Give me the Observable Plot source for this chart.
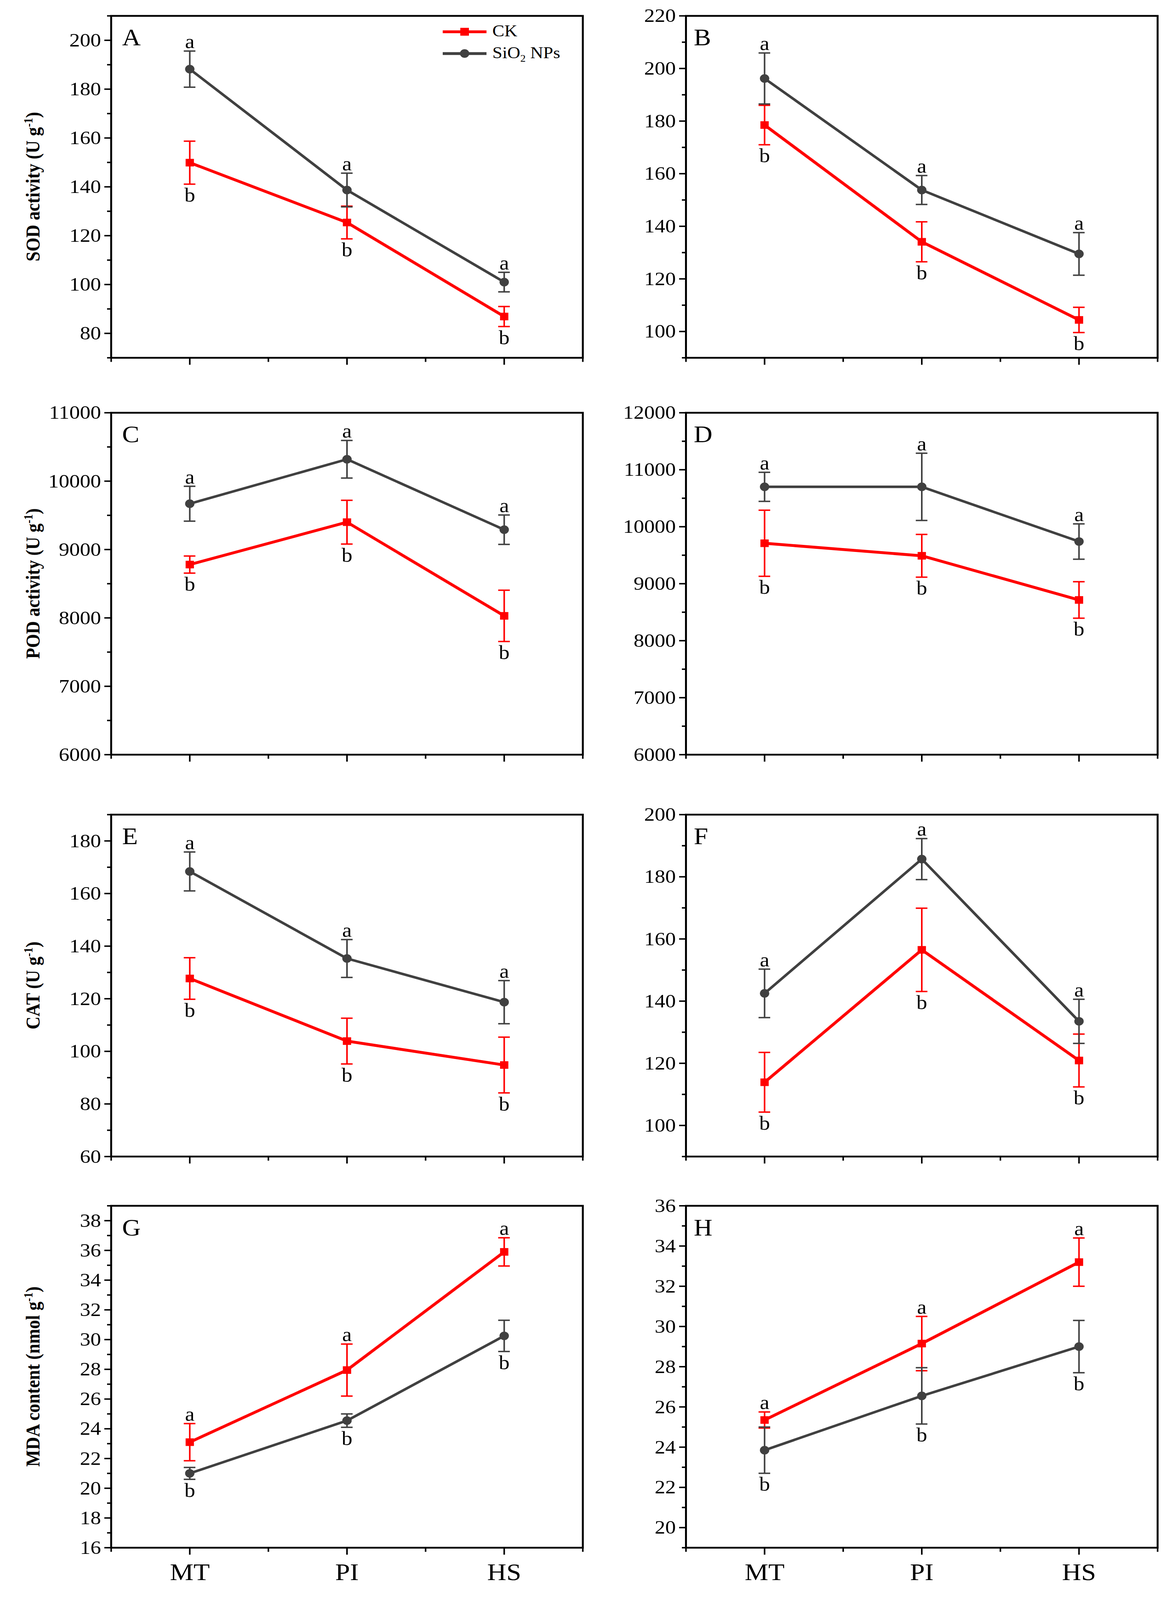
<!DOCTYPE html>
<html>
<head>
<meta charset="utf-8">
<script src="https://cdn.jsdelivr.net/npm/d3@7"></script>
<script src="https://cdn.jsdelivr.net/npm/@observablehq/plot@0.6"></script>
<style>
  html, body { margin: 0; padding: 0; background: #fff; overflow: hidden; }
  #page { position: relative; width: 3007px; height: 4483px; transform-origin: 0 0; font-family: "Liberation Serif", "Times New Roman", serif; }
  .panel { position: absolute; }
  .ytitle { position: absolute; font-weight: bold; font-size: 50px; white-space: nowrap; transform: translate(-50%, -50%) rotate(-90deg); }
  .ytitle sup { font-size: 0.62em; }
  .leg { position: absolute; font-size: 46px; line-height: 46px; white-space: nowrap; }
</style>
</head>
<body>
<div id="page"></div>
<script>
// estadios y paneles
const stages = ["MT", "PI", "HS"]
const panelIds = ["A", "B", "C", "D", "E", "F", "G", "H"]
const yTitles = ["SOD activity (U g", "POD activity (U g", "CAT (U g", "MDA content (nmol g"]

// medias y desvios (CK y SiO2 NPs), un renglon por panel
const ckMeans = [
  [149.9, 125.4, 86.9],
  [178.5, 134.1, 104.4],
  [8780, 9400, 8030],
  [9710, 9490, 8715],
  [127.7, 103.9, 94.8],
  [113.9, 156.5, 120.9],
  [23.1, 27.95, 35.9],
  [25.35, 29.15, 33.2]
]
const ckSd = [
  [8.8, 6.7, 4.1],
  [7.5, 7.6, 4.8],
  [125, 320, 375],
  [580, 375, 320],
  [7.9, 8.7, 10.6],
  [9.6, 13.4, 8.5],
  [1.25, 1.75, 0.95],
  [0.4, 1.35, 1.2]
]
const sioMeans = [
  [188.2, 138.7, 101],
  [196.2, 153.8, 129.5],
  [9670, 10320, 9290],
  [10700, 10700, 9740],
  [168.4, 135.3, 118.7],
  [142.5, 185.7, 133.5],
  [21.0, 24.55, 30.25],
  [23.85, 26.55, 29.0]
]
const sioSd = [
  [7.4, 6.9, 4],
  [9.7, 5.5, 8.1],
  [255, 275, 215],
  [255, 590, 310],
  [7.4, 7.2, 8.2],
  [7.8, 6.6, 7.1],
  [0.4, 0.45, 1.05],
  [1.15, 1.4, 1.3]
]
// letras de significancia
const ckLetters = ["b", "b", "b", "b", "b", "b", "a", "a"]
const sioLetters = ["a", "a", "a", "a", "a", "a", "b", "b"]

// ejes
const yDomains = [[70, 210], [90, 220], [6000, 11000], [6000, 12000], [60, 190], [90, 200], [16, 39], [19, 36]]
const yTicks = [
  [80, 100, 120, 140, 160, 180, 200],
  [100, 120, 140, 160, 180, 200, 220],
  [6000, 7000, 8000, 9000, 10000, 11000],
  [6000, 7000, 8000, 9000, 10000, 11000, 12000],
  [60, 80, 100, 120, 140, 160, 180],
  [100, 120, 140, 160, 180, 200],
  [16, 18, 20, 22, 24, 26, 28, 30, 32, 34, 36, 38],
  [20, 22, 24, 26, 28, 30, 32, 34, 36]
]

const RED = "#ff0000"
const GRAY = "#404040"
const plotW = 1207, plotH = 958
const colLeft = [284, 1755]
const rowTop = [44, 1156, 2282, 3378]
const mTop = 60, mBot = 130, svgW = 1503

const page = d3.select("#page")

function serie(k, means, sds, letters) {
  return means[k].map((m, i) => ({i: i + 1, mean: m, lo: m - sds[k][i], hi: m + sds[k][i], letter: letters[k]}))
}

panelIds.forEach((id, k) => {
  const col = k % 2, row = Math.floor(k / 2)
  const ml = colLeft[col] - col * svgW
  const ck = serie(k, ckMeans, ckSd, ckLetters)
  const sio = serie(k, sioMeans, sioSd, sioLetters)
  const step = yTicks[k][1] - yTicks[k][0]
  const minor = d3.range(yTicks[k][0] - step / 2, yDomains[k][1] + 1e-9, step).filter(v => v >= yDomains[k][0])
  const bottom = row === 3

  const errorMarks = (data, color) => [
    Plot.ruleX(data, {x: "i", y1: "lo", y2: "hi", stroke: color, strokeWidth: 4}),
    Plot.ruleY(data, {y: "hi", x1: d => d.i - 0.037, x2: d => d.i + 0.037, stroke: color, strokeWidth: 4}),
    Plot.ruleY(data, {y: "lo", x1: d => d.i - 0.037, x2: d => d.i + 0.037, stroke: color, strokeWidth: 4})
  ]
  const letterMark = (data) => {
    const up = data[0].letter === "a"
    return Plot.text(data, {
      x: "i", y: up ? "hi" : "lo", text: "letter",
      dy: up ? -8 : 10, lineAnchor: up ? "bottom" : "top",
      fontSize: 55, fill: "black"
    })
  }

  const chart = Plot.plot({
    width: svgW,
    height: mTop + plotH + mBot,
    marginLeft: ml,
    marginRight: svgW - ml - plotW,
    marginTop: mTop,
    marginBottom: mBot,
    x: {domain: [0.5, 3.5], axis: null},
    y: {domain: yDomains[k], axis: null},
    style: {background: "none", maxWidth: "none", overflow: "visible", fontFamily: "'Liberation Serif', 'Times New Roman', serif"},
    marks: [
      ...errorMarks(ck, RED),
      ...errorMarks(sio, GRAY),
      Plot.line(ck, {x: "i", y: "mean", stroke: RED, strokeWidth: 8}),
      Plot.line(sio, {x: "i", y: "mean", stroke: GRAY, strokeWidth: 7}),
      Plot.dot(ck, {x: "i", y: "mean", symbol: "square", r: 12, fill: RED}),
      Plot.dot(sio, {x: "i", y: "mean", symbol: "circle", r: 12, fill: GRAY}),
      letterMark(ck),
      letterMark(sio),
      Plot.text([id], {frameAnchor: "top-left", dx: col ? 20 : 28, dy: 36, lineAnchor: "top", textAnchor: "start", fontSize: 66, fill: "black"}),
      Plot.axisY({ticks: yTicks[k], tickSize: 17, tickPadding: 9, tickFormat: d3.format("d"), fontSize: 54, color: "black", strokeWidth: 4, label: null}),
      Plot.axisY({ticks: minor, tickSize: 10, tickFormat: () => "", color: "black", strokeWidth: 4, label: null}),
      Plot.axisX({ticks: [1, 2, 3], tickSize: 20, tickPadding: 22, tickFormat: d => bottom ? stages[d - 1] : "", fontSize: 68, color: "black", strokeWidth: 4, label: null}),
      Plot.axisX({ticks: [0.5, 1.5, 2.5, 3.5], tickSize: 12, tickFormat: () => "", color: "black", strokeWidth: 4, label: null}),
      Plot.frame({stroke: "black", strokeWidth: 5})
    ]
  })

  page.append("div")
    .attr("class", "panel")
    .style("left", `${col * svgW}px`)
    .style("top", `${rowTop[row] - mTop}px`)
    .append(() => chart)

  if (col === 0) {
    page.append("div")
      .attr("class", "ytitle")
      .style("left", "84px")
      .style("top", `${rowTop[row] + plotH / 2}px`)
      .html(`${yTitles[row]}<sup>-1</sup>)`)
  }
})

// leyenda del panel A
const legendRows = [
  {label: "CK", color: RED, shape: "square", y: 89},
  {label: "SiO<sub style='font-size:0.6em'>2</sub> NPs", color: GRAY, shape: "circle", y: 150}
]
legendRows.forEach(r => {
  const svg = page.append("svg")
    .style("position", "absolute")
    .style("left", "1133px")
    .style("top", `${r.y - 15}px`)
    .attr("width", 112).attr("height", 30)
  svg.append("line").attr("x1", 0).attr("x2", 112).attr("y1", 15).attr("y2", 15)
    .attr("stroke", r.color).attr("stroke-width", 8)
  if (r.shape === "square") {
    svg.append("rect").attr("x", 45).attr("y", 4).attr("width", 22).attr("height", 22).attr("fill", r.color)
  } else {
    svg.append("circle").attr("cx", 56).attr("cy", 15).attr("r", 12).attr("fill", r.color)
  }
  page.append("div")
    .attr("class", "leg")
    .style("left", "1260px")
    .style("top", `${r.y - 25}px`)
    .html(r.label)
})

// la ventana real puede ser mas baja que 4483: estirar la pagina para llenarla
const sx = Math.min(1, window.innerWidth / 3007)
const sy = Math.min(1, window.innerHeight / 4483)
if (sx < 1 || sy < 1) page.style("transform", `scale(${sx}, ${sy})`)
</script>
</body>
</html>
